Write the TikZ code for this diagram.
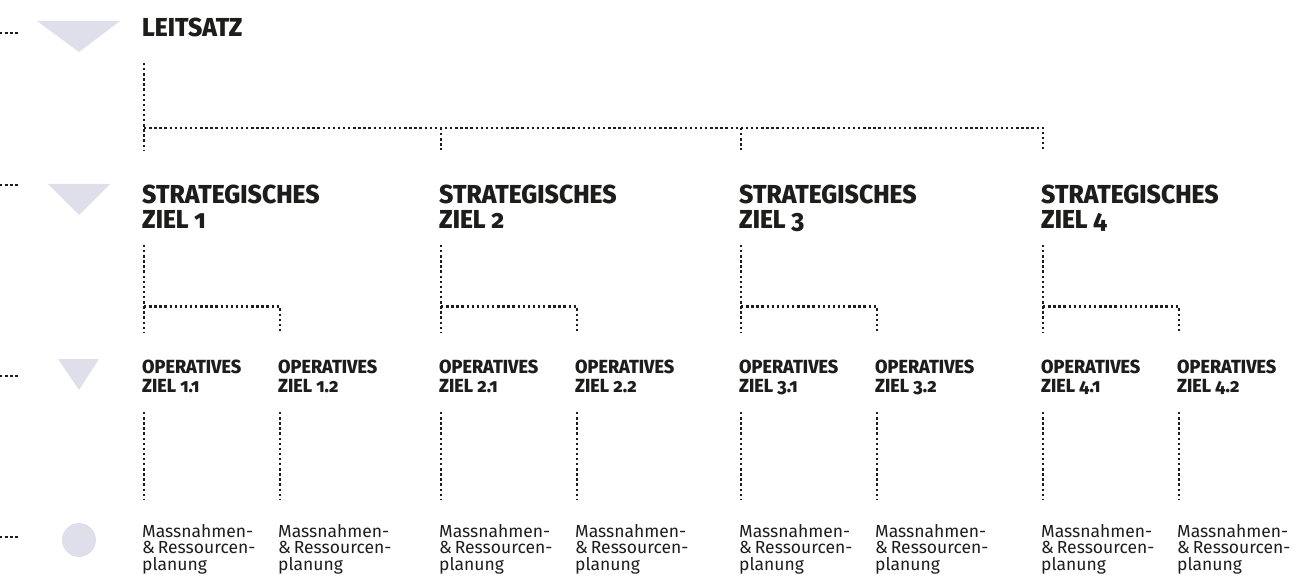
\documentclass[tikz,border=0pt]{standalone}
\usepackage{fontspec}
\usetikzlibrary{calc}
\newfontfamily\headfont[Numbers=OldStyle,FakeStretch=0.95]{Fira Sans ExtraBold}
\newfontfamily\bodyfont[Numbers=OldStyle]{Fira Sans}
\definecolor{ink}{RGB}{29,29,27}
\definecolor{marker}{RGB}{222,223,234}
\tikzset{
  dots/.style={draw=ink,line width=2.6pt,dash pattern=on 2.4pt off 2.7pt},
  leitsatz/.style={inner sep=0pt,anchor=base west,text=ink,font=\headfont\fontsize{26}{25}\selectfont},
  strategic/.style={inner sep=0pt,anchor=north west,align=left,text=ink,font=\headfont\fontsize{26}{25}\selectfont},
  operative/.style={inner sep=0pt,anchor=north west,align=left,text=ink,font=\headfont\fontsize{19}{19}\selectfont},
  measure/.style={inner sep=0pt,anchor=north west,align=left,text=ink,font=\bodyfont\fontsize{17.5}{16.5}\selectfont},
  levelmark/.style={fill=marker,draw=none}
}
\begin{document}
\begin{tikzpicture}[x=1pt,y=-1pt]
\useasboundingbox (0,0) rectangle (1303,585);

% level markers on the left
\draw[dots] (0,33) -- (18,33);
\draw[dots] (0,185) -- (18,185);
\draw[dots] (0,376) -- (18,376);
\draw[dots] (0,537) -- (18,537);
\fill[levelmark] (37,21) -- (120,21) -- (79,52) -- cycle;
\fill[levelmark] (48,184) -- (110,184) -- (79,215) -- cycle;
\fill[levelmark] (58,359) -- (99,359) -- (79,390) -- cycle;
\fill[levelmark] (79,540) circle (17);

% mission statement
\node[leitsatz] (L) at (142,37) {LEITSATZ};

% strategic goals
\node[strategic] (S1) at (142,185) {STRATEGISCHES\\ZIEL 1};
\node[strategic] (S2) at (439,185) {STRATEGISCHES\\ZIEL 2};
\node[strategic] (S3) at (739,185) {STRATEGISCHES\\ZIEL 3};
\node[strategic] (S4) at (1041,185) {STRATEGISCHES\\ZIEL 4};

% operative goals and measures
\foreach \s/\x in {1/142,2/439,3/739,4/1041}{
  \node[operative] (O\s1) at (\x,360) {OPERATIVES\\ZIEL \s.1};
  \node[operative] (O\s2) at (\x+136,360) {OPERATIVES\\ZIEL \s.2};
  \node[measure] (M\s1) at (\x,524) {Massnahmen-\\\&\,Ressourcen-\\planung};
  \node[measure] (M\s2) at (\x+136,524) {Massnahmen-\\\&\,Ressourcen-\\planung};
}

% mission statement -> strategic goals
\coordinate (la) at ($(L.base west)+(2,26)$);
\coordinate (bus) at (0,128);
\foreach \s in {1,2,3,4}{
  \coordinate (s\s) at ($(S\s.north west)+(2,-35)$);
}
\draw[dots] (la) -- (s1);
\draw[dots] (s1 |- bus) -| (s4);
\draw[dots] (s2 |- bus) -- (s2);
\draw[dots] (s3 |- bus) -- (s3);

% strategic goals -> operative goals
\foreach \s in {1,2,3,4}{
  \coordinate (sa\s) at ($(S\s.north west)+(2,60)$);
  \coordinate (oa\s) at ($(O\s1.north west)+(2,-28)$);
  \coordinate (ob\s) at ($(O\s2.north west)+(2,-28)$);
  \draw[dots] (sa\s) -- (oa\s);
  \draw[dots] ($(sa\s)!0.71!(oa\s)$) -| (ob\s);
}

% operative goals -> measures
\foreach \s in {1,2,3,4}{
  \foreach \o in {1,2}{
    \draw[dots] ($(O\s\o.north west)+(2,52)$) -- ($(M\s\o.north west)+(2,-24)$);
  }
}
\end{tikzpicture}
\end{document}
